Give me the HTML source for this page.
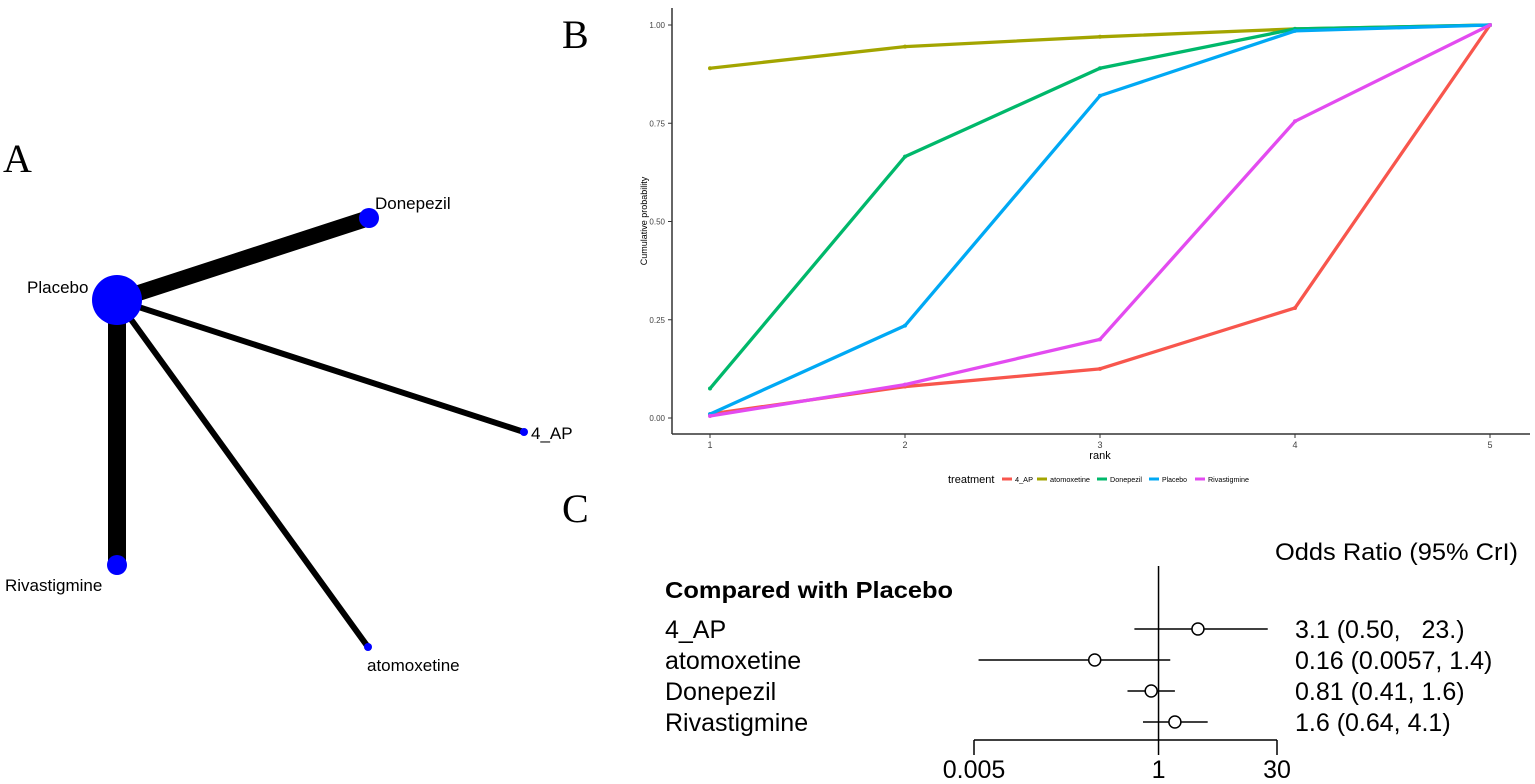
<!DOCTYPE html>
<html><head><meta charset="utf-8"><style>
body{margin:0;background:#fff;}
svg{display:block;font-family:"Liberation Sans",sans-serif;}
text{white-space:pre;}
</style></head><body>
<svg id="fig" width="1535" height="784" viewBox="0 0 1535 784">
<text x="3" y="172" font-family="Liberation Serif" font-size="40">A</text>
<text x="562" y="48" font-family="Liberation Serif" font-size="40">B</text>
<text x="562" y="522" font-family="Liberation Serif" font-size="40">C</text>
<g id="net"></g>
<g id="rank"></g>
<g id="forest"></g>
</svg>
<script>
const NS="http://www.w3.org/2000/svg";
function mk(p,t,a,txt){const e=document.createElementNS(NS,t);for(const k in a)e.setAttribute(k,a[k]);if(txt!=null)e.textContent=txt;p.appendChild(e);return e;}

// ---- Network (A)
const netNodes=["Placebo","Donepezil","4_AP","Rivastigmine","atomoxetine"];
const netX=[117,369,524,117,368];
const netY=[300,218,432,565,647];
const netR=[25,10,4,10,4];
const netEdgeW=[0,16,6,18,6];
const net=document.getElementById('net');
for(let i=1;i<netNodes.length;i++){
  const l=mk(net,'line',{x1:netX[0],y1:netY[0],x2:netX[i],y2:netY[i],stroke:'#000','stroke-width':netEdgeW[i]});
  
  
}
const lblPos=[[27,293],[375,209],[531,439],[5,591],[367,671]];
for(let i=0;i<netNodes.length;i++){
  const c=mk(net,'circle',{cx:netX[i],cy:netY[i],r:netR[i],fill:'#0000ff'});
  
  
  const t=mk(net,'text',{x:lblPos[i][0],y:lblPos[i][1],'font-size':17},netNodes[i]);
  
  
}

// ---- Rank chart (B)
const ranks=[1,2,3,4,5];
const yTicks=[0,0.25,0.5,0.75,1];
const yTickLabels=["0.00","0.25","0.50","0.75","1.00"];
const treatments=["4_AP","atomoxetine","Donepezil","Placebo","Rivastigmine"];
const colors=["#f8564d","#a3a500","#00b86b","#00a9f4","#e34bf0"];
const s4AP=[0.01,0.08,0.125,0.28,1.0];
const sAtomox=[0.89,0.945,0.97,0.99,1.0];
const sDonep=[0.075,0.665,0.89,0.99,1.0];
const sPlacebo=[0.01,0.235,0.82,0.985,1.0];
const sRivast=[0.005,0.085,0.2,0.755,1.0];
const series=[s4AP,sAtomox,sDonep,sPlacebo,sRivast];
const rx=r=>710+(r-1)*195;
const ry=v=>418-v*393;
const rk=document.getElementById('rank');
mk(rk,'line',{x1:672,y1:8,x2:672,y2:434,stroke:'#333','stroke-width':1.5});
mk(rk,'line',{x1:672,y1:434,x2:1530,y2:434,stroke:'#333','stroke-width':1.5});
yTicks.forEach((v,i)=>{
  mk(rk,'line',{x1:668,y1:ry(v),x2:672,y2:ry(v),stroke:'#333'});
  const t=mk(rk,'text',{x:665,y:ry(v)+3,'font-size':8,'text-anchor':'end',fill:'#444'},yTickLabels[i]);
  
  
});
ranks.forEach(r=>{
  mk(rk,'line',{x1:rx(r),y1:434,x2:rx(r),y2:438,stroke:'#333'});
  const t=mk(rk,'text',{x:rx(r),y:448,'font-size':9,'text-anchor':'middle',fill:'#444'},String(r));
  
  
});
const xt=mk(rk,'text',{x:1100,y:459,'font-size':11,'text-anchor':'middle'},'rank');

const yt=mk(rk,'text',{x:0,y:0,'font-size':9,'text-anchor':'middle',transform:'translate(647,221) rotate(-90)'},'Cumulative probability');

series.forEach((s,k)=>{
  const pts=s.map((v,i)=>rx(ranks[i])+','+ry(v)).join(' ');
  const pl=mk(rk,'polyline',{points:pts,fill:'none',stroke:colors[k],'stroke-width':3.3});
  
  
  s.forEach((v,i)=>{const c=mk(rk,'circle',{cx:rx(ranks[i]),cy:ry(v),r:2,fill:colors[k]});
    
    });
});
const lg=mk(rk,'g',{});

mk(lg,'text',{x:948,y:483,'font-size':11},'treatment');
const legX=[1002,1037,1097,1149,1195];
const legW=[18,40,32,25,41];
treatments.forEach((t,k)=>{
  const x=legX[k];
  const e=mk(lg,'g',{});
  
  
  mk(e,'line',{x1:x,y1:479,x2:x+10,y2:479,stroke:colors[k],'stroke-width':3});
  mk(e,'text',{x:x+13,y:482,'font-size':7,textLength:legW[k],lengthAdjust:'spacingAndGlyphs'},t);
});

// ---- Forest (C)
const fNames=["4_AP","atomoxetine","Donepezil","Rivastigmine"];
const fEst=[3.1,0.16,0.81,1.6];
const fLo=[0.50,0.0057,0.41,0.64];
const fHi=[23,1.4,1.6,4.1];
const fText=["3.1 (0.50,   23.)","0.16 (0.0057, 1.4)","0.81 (0.41, 1.6)","1.6 (0.64, 4.1)"];
const fTicks=[0.005,1,30];
const fTickLabels=["0.005","1","30"];
const fx=v=>974+(Math.log10(v)-Math.log10(0.005))/(Math.log10(30)-Math.log10(0.005))*303;
const rowY=i=>629+i*31;
const fp=document.getElementById('forest');
const h1=mk(fp,'text',{x:1275,y:560,'font-size':24,textLength:243,lengthAdjust:'spacingAndGlyphs'},'Odds Ratio (95% CrI)');

const h2=mk(fp,'text',{x:665,y:598,'font-size':23,'font-weight':'bold',textLength:288,lengthAdjust:'spacingAndGlyphs'},'Compared with Placebo');

mk(fp,'line',{x1:fx(1),y1:566,x2:fx(1),y2:740,stroke:'#000','stroke-width':1.5});
mk(fp,'line',{x1:fx(0.005),y1:740,x2:fx(30),y2:740,stroke:'#000','stroke-width':1.5});
fTicks.forEach((v,i)=>{
  mk(fp,'line',{x1:fx(v),y1:740,x2:fx(v),y2:755,stroke:'#000','stroke-width':1.5});
  const t=mk(fp,'text',{x:fx(v),y:778,'font-size':25,'text-anchor':'middle'},fTickLabels[i]);
  
});
fNames.forEach((n,i)=>{
  const y=rowY(i);
  const lab=mk(fp,'text',{x:665,y:y+9,'font-size':25},n);
  
  const ci=mk(fp,'line',{x1:fx(fLo[i]),y1:y,x2:fx(fHi[i]),y2:y,stroke:'#000','stroke-width':1.5});
  
  const c=mk(fp,'circle',{cx:fx(fEst[i]),cy:y,r:6,fill:'#fff',stroke:'#000','stroke-width':1.5});
  
  const v=mk(fp,'text',{x:1295,y:y+9,'font-size':25},fText[i]);
  
});
</script>
</body></html>
